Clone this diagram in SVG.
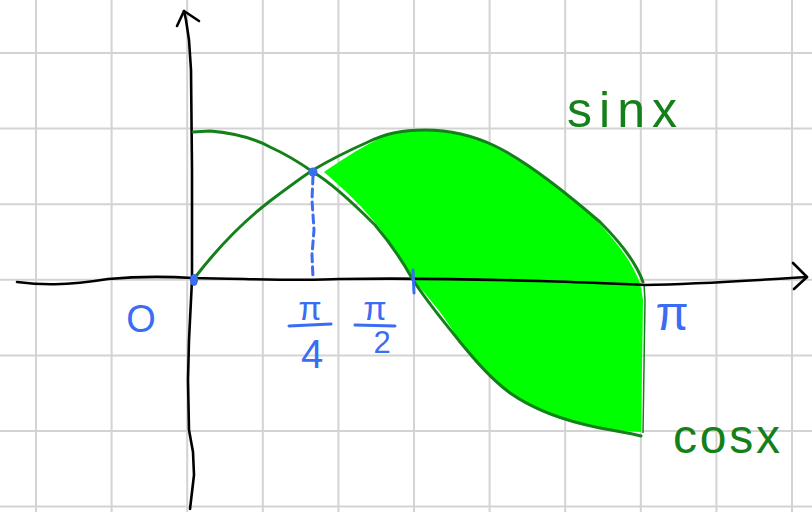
<svg xmlns="http://www.w3.org/2000/svg" width="812" height="512" viewBox="0 0 812 512">
<style>
.grid{stroke:#d3d3d3;stroke-width:2;fill:none}
.axis{stroke:#000;stroke-width:2.6;fill:none;stroke-linecap:round;stroke-linejoin:round}
.curve{stroke:#14801a;stroke-width:3;fill:none;stroke-linecap:round;stroke-linejoin:round}
.blue{stroke:#3a6cf4;stroke-width:3;fill:none;stroke-linecap:round}
.bt{fill:#3a6cf4;font-family:"Liberation Sans",Arial,sans-serif;text-anchor:middle}
.gt{fill:#14801a;font-family:"Liberation Sans",Arial,sans-serif}
</style>
<rect width="812" height="512" fill="#fff"/>
<g id="grid" class="grid">
<path d="M36,0V512M111.6,0V512M187.2,0V512M262.8,0V512M338.4,0V512M414,0V512M489.6,0V512M565.2,0V512M640.8,0V512M716.4,0V512M792,0V512"/>
<path d="M0,53H812M0,128.6H812M0,204.2H812M0,279.8H812M0,355.4H812M0,431H812M0,506.6H812"/>
</g>
<g id="area">
<path fill="#00ff00" d="M324,172 C345,158 372,139 400,131 C430,127 470,133 495,147 C540,172 575,199 600,224 C618,244 632,262 640,283 L643,300 L641,432 C620,431 600,429 578,424 C545,416 515,402 492,377 C478,366 465,352 456,336 C442,312 427,296 414,281 C402,260 388,238 372,219 C357,201 340,186 324,172 Z"/>
<path d="M644,285 L645,300 L643,433" stroke="#14801a" stroke-width="1.5" fill="none"/>
</g>
<g id="axes">
<path class="axis" d="M17,282 C40,285 65,286 108,279 C130,277 160,276 193,278 C260,279 300,281 340,279 C400,278 470,279 540,281 C580,282 620,284 645,285 C700,284 760,280 807,277"/>
<path class="axis" d="M793,263 L807,277 L794,289"/>
<path class="axis" d="M190,509 L194,475 L193,452 L189,430 L188,380 L189,340 L192,280 L192,170 L191,70 L189,40 L186,20 L184,11"/>
<path class="axis" d="M177,26 L184,11 L199,21"/>
</g>
<g id="curves">
<path id="sin" class="curve" d="M193,280 C212,255 235,228 270,201 C290,186 302,177 313,170 C335,157 350,150 368,142 C385,134 400,130 425,130 C450,130 472,135 495,146 C530,163 570,196 600,222 C620,242 636,262 643,282"/>
<path id="cos" class="curve" d="M193,132 L210,131 C235,133 255,139 270,147 C290,156 303,165 313,172 C330,182 350,200 375,225 C392,245 403,262 413,280 C428,303 445,323 460,342 C475,360 490,378 510,393 C530,407 560,420 600,428 C615,431 630,433 641,436"/>
</g>
<g id="markers">
<path class="blue" stroke-dasharray="8,5" d="M313,176 L312,200 L314,230 L312,255 L313,278"/>
<path class="blue" d="M413,270 L414,293"/>
<circle cx="313" cy="172" r="4.5" fill="#3a6cf4"/>
<ellipse cx="194" cy="280" rx="4" ry="6" fill="#3a6cf4"/>
</g>
<g id="labels">
<text class="bt" x="141" y="332" font-size="38">O</text>
<text class="bt" x="310" y="320" font-size="34">π</text>
<path class="blue" d="M289,326 L331,324"/>
<text class="bt" x="312" y="368" font-size="40">4</text>
<text class="bt" x="375" y="320" font-size="34">π</text>
<path class="blue" d="M355,325 L395,326"/>
<text class="bt" x="382" y="353" font-size="31">2</text>
<text class="bt" x="672" y="330" font-size="48">π</text>
<text class="gt" x="567" y="127" font-size="50" textLength="110" lengthAdjust="spacing">sinx</text>
<text class="gt" x="673" y="453" font-size="48" textLength="107" lengthAdjust="spacing">cosx</text>
</g>
</svg>
